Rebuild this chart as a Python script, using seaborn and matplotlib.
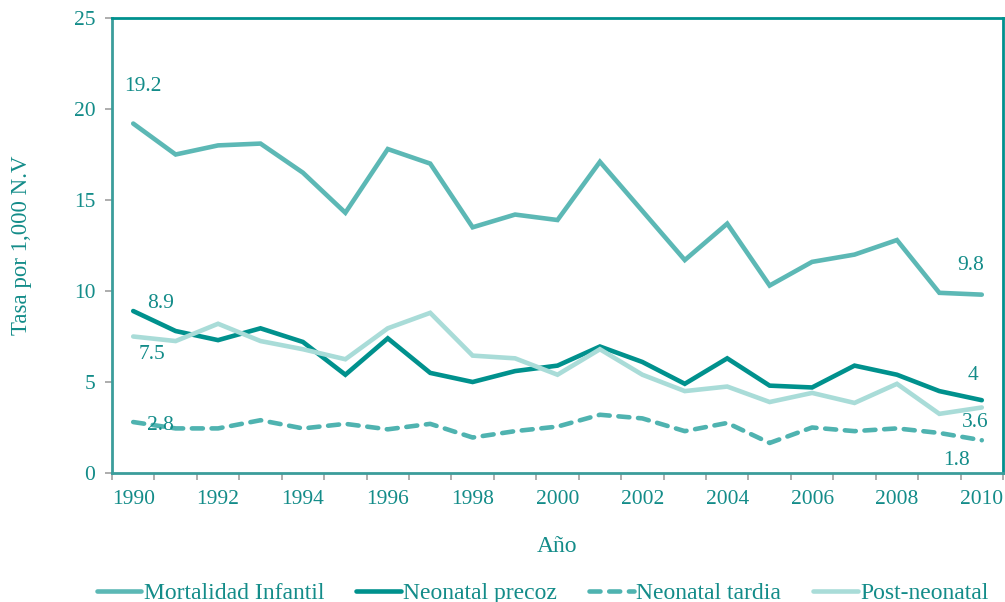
import matplotlib
matplotlib.use("Agg")
import matplotlib.pyplot as plt
import seaborn as sns
import pandas as pd
from matplotlib.ticker import MultipleLocator, FixedLocator

anios = list(range(1990, 2011))

mortalidad_infantil = [19.2, 17.5, 18.0, 18.1, 16.5, 14.3, 17.8, 17.0, 13.5, 14.2, 13.9,
                       17.1, 14.4, 11.7, 13.7, 10.3, 11.6, 12.0, 12.8, 9.9, 9.8]
neonatal_precoz = [8.9, 7.8, 7.3, 7.95, 7.2, 5.4, 7.4, 5.5, 5.0, 5.6, 5.9,
                   6.95, 6.1, 4.9, 6.3, 4.8, 4.7, 5.9, 5.4, 4.5, 4.0]
neonatal_tardia = [2.8, 2.45, 2.45, 2.9, 2.45, 2.7, 2.4, 2.7, 1.95, 2.3, 2.55,
                   3.2, 3.0, 2.3, 2.75, 1.65, 2.5, 2.3, 2.45, 2.2, 1.8]
post_neonatal = [7.5, 7.25, 8.2, 7.25, 6.8, 6.25, 7.95, 8.8, 6.45, 6.3, 5.4,
                 6.8, 5.4, 4.5, 4.75, 3.9, 4.4, 3.85, 4.9, 3.25, 3.6]

series = {
    "Mortalidad Infantil": mortalidad_infantil,
    "Neonatal precoz": neonatal_precoz,
    "Neonatal tardia": neonatal_tardia,
    "Post-neonatal": post_neonatal,
}
colores = {
    "Mortalidad Infantil": "#5cb8b5",
    "Neonatal precoz": "#00918d",
    "Neonatal tardia": "#4fb3b0",
    "Post-neonatal": "#a9dcd8",
}
trazos = {
    "Mortalidad Infantil": "",
    "Neonatal precoz": "",
    "Neonatal tardia": (2.4, 1.9),
    "Post-neonatal": "",
}

df = pd.concat([pd.DataFrame({"Año": anios, "Tasa": v, "Serie": k}) for k, v in series.items()])

texto = "#138c89"
sns.set_theme(style="white")
plt.rcParams["font.family"] = ["Liberation Serif", "DejaVu Serif"]

fig = plt.figure(figsize=(10.05, 6.02), dpi=100)
ax = fig.add_axes([112 / 1005, 1 - 473 / 602, 891 / 1005, 455 / 602])

sns.lineplot(data=df, x="Año", y="Tasa", hue="Serie", style="Serie", palette=colores,
             dashes=trazos, linewidth=3.3, ax=ax, legend=True)
for ln in ax.lines:
    ln.set_dash_capstyle("round")
    ln.set_solid_joinstyle("miter")

ax.set_xlim(1989.5, 2010.5)
ax.set_ylim(0, 25)
ax.xaxis.set_major_locator(FixedLocator(anios[::2]))
ax.xaxis.set_minor_locator(FixedLocator([a - 0.5 for a in anios] + [2010.5]))
ax.yaxis.set_major_locator(MultipleLocator(5))
ax.tick_params(axis="x", which="major", length=0, pad=12, labelsize=15.5, labelcolor=texto)
ax.tick_params(axis="x", which="minor", length=5, width=1.2, color="#a0a0a0", direction="out", bottom=True)
ax.tick_params(axis="y", length=5, width=1.2, color="#a0a0a0", direction="out", left=True,
               pad=7, labelsize=15.5, labelcolor=texto)

for lado in ["top", "right"]:
    ax.spines[lado].set_color("#00918e")
    ax.spines[lado].set_linewidth(2)
for lado in ["left", "bottom"]:
    ax.spines[lado].set_color("#3b9d9b")
    ax.spines[lado].set_linewidth(2)

ax.set_xlabel("Año", fontsize=17, color=texto, va="center")
ax.xaxis.set_label_coords(0.5, -0.161)
ax.set_ylabel("Tasa por 1,000 N.V", fontsize=16.5, color=texto, va="center")
ax.yaxis.set_label_coords(-0.102, 0.5)

etiquetas = [
    ("Mortalidad Infantil", 0, (10, 37)),
    ("Neonatal precoz", 0, (27, 8)),
    ("Post-neonatal", 0, (19, -18)),
    ("Neonatal tardia", 0, (27, -3)),
    ("Mortalidad Infantil", -1, (-11, 29)),
    ("Neonatal precoz", -1, (-9, 25)),
    ("Post-neonatal", -1, (-7, -15)),
    ("Neonatal tardia", -1, (-25, -20)),
]
for nombre, idx, off in etiquetas:
    val = series[nombre][idx]
    ax.annotate(f"{val:g}", xy=(anios[idx], val), xytext=off, textcoords="offset pixels",
                ha="center", va="center", fontsize=15.5, color=texto)

handles, labels = ax.get_legend_handles_labels()
ax.get_legend().remove()
fig.legend(handles, labels, loc="center", bbox_to_anchor=(0.54, 1 - 593 / 602), ncol=4,
           frameon=False, fontsize=17, labelcolor=texto, handlelength=1.9,
           handletextpad=0.1, columnspacing=1.35)

fig.savefig("out.png", dpi=100)
